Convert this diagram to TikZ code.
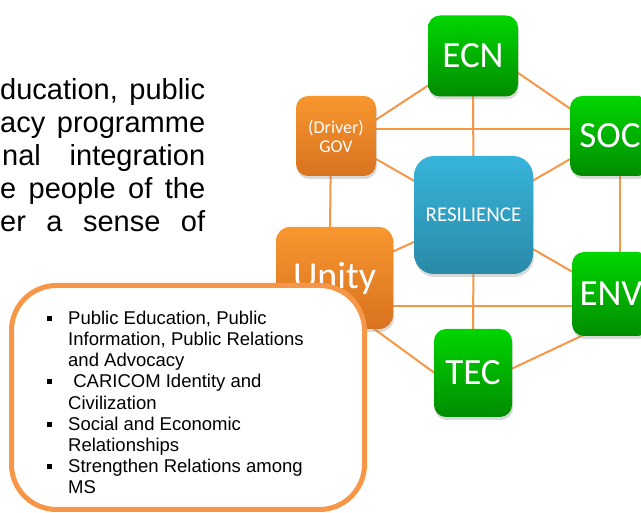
\documentclass[tikz,border=0pt]{standalone}
\usepackage{fontspec}
\setmainfont{Liberation Sans}
\newfontfamily\calibri{Carlito}
\usetikzlibrary{shadows,backgrounds}

\definecolor{linkorange}{HTML}{F79646}
\definecolor{orangetop}{HTML}{F8962F}
\definecolor{orangebot}{HTML}{D8721F}
\definecolor{greentop}{HTML}{00D600}
\definecolor{greenbot}{HTML}{008C00}
\definecolor{bluetop}{HTML}{37B4DB}
\definecolor{bluebot}{HTML}{2A8AA7}

\begin{document}
\begin{tikzpicture}[x=1pt,y=-1pt,
    pillar/.style ={rounded corners=12pt, inner sep=0pt, text=white, align=center,
      drop shadow={opacity=0.3, shadow xshift=1pt, shadow yshift=-3pt}},
    driverbox/.style ={pillar, top color=orangetop, bottom color=orangebot},
    sectorbox/.style ={pillar, top color=greentop, bottom color=greenbot},
    corebox/.style ={pillar, rounded corners=20pt, top color=bluetop, bottom color=bluebot},
    linkline/.style ={linkorange, line width=2pt},
    notebox/.style ={draw=linkorange, line width=5pt, fill=white, rounded corners=45pt, inner sep=0pt},
    noteline/.style ={anchor=base west, inner sep=0pt, font=\fontsize{18.5}{21}\selectfont},
    bulletbox/.style ={fill=black, inner sep=0pt, minimum size=5pt},
    bodyline/.style ={anchor=base west, inner sep=0pt, font=\fontsize{29}{33}\selectfont}]
   \useasboundingbox (0,0) rectangle (641,513);
   \clip (0,0) rectangle (641,513);

   % paragraph cut at the left edge
   \node[bodyline] (P1) at (0,100) {\makebox[205pt][s]{ducation, public}};
   \node[bodyline] (P2) at (0,133) {\makebox[205pt][s]{acy programme}};
   \node[bodyline] (P3) at (2,166) {\makebox[203pt][s]{nal integration}};
   \node[bodyline] (P4) at (0,199) {\makebox[205pt][s]{e people of the}};
   \node[bodyline] (P5) at (0,232) {\makebox[205pt][s]{er a sense of}};

   % pillars
   \node[sectorbox, minimum width=90pt, minimum height=81pt, font=\calibri\fontsize{37}{40}\selectfont] (ECN) at (473,56) {ECN};
   \node[driverbox, minimum width=80pt, minimum height=80pt, font=\calibri\fontsize{18}{19}\selectfont] (GOV) at (336,136) {(Driver)\\GOV};
   \node[sectorbox, minimum width=80pt, minimum height=80pt, font=\calibri\fontsize{37}{40}\selectfont] (SOC) at (610,136) {SOC};
   \node[corebox, minimum width=119pt, minimum height=118pt, font=\calibri\fontsize{21}{24}\selectfont] (RES) at (473.5,215) {RESILIENCE};
   \node[driverbox, rounded corners=14pt, minimum width=117pt, minimum height=102pt, font=\calibri\fontsize{38}{42}\selectfont] (Unity) at (334.5,278) {Unity};
   \node[sectorbox, minimum width=78pt, minimum height=84pt, font=\calibri\fontsize{37}{40}\selectfont] (ENV) at (611,294) {ENV};
   \node[sectorbox, minimum width=78pt, minimum height=88pt, font=\calibri\fontsize{37}{40}\selectfont] (TEC) at (473,373) {TEC};

   \begin{scope}[on background layer]
   \draw[linkline] ([yshift=-10pt]GOV.center) to (ECN.center);
   \draw[linkline] ([yshift=14pt]ECN.center) to (SOC.center);
   \draw[linkline] (ECN.center) to (RES.center);
   \draw[linkline] ([yshift=7pt]GOV.center) to ([yshift=7pt]SOC.center);
   \draw[linkline] (GOV.center) to (RES.center);
   \draw[linkline] (SOC.center) to (RES.center);
   \draw[linkline] ([xshift=-5pt]GOV.center) to ([xshift=-5pt]Unity.center);
   \draw[linkline] ([xshift=10pt]SOC.center) to ([xshift=9pt]ENV.center);
   \draw[linkline] (Unity.center) to (RES.center);
   \draw[linkline] ([yshift=-28pt]Unity.center) to ([yshift=-12pt]ENV.center);
   \draw[linkline] ([yshift=-22pt]Unity.center) to ([yshift=-28pt]TEC.center);
   \draw[linkline] (RES.center) to (TEC.center);
   \draw[linkline] (RES.center) to (ENV.center);
   \draw[linkline] ([yshift=-14pt]TEC.center) to ([yshift=-28pt]ENV.center);
   \end{scope}

   % notes
   \node[notebox, minimum width=353pt, minimum height=224pt] (notes) at (188,397.5) {};
   \node[bulletbox] (M1) at (49,318.5) {};
   \node[bulletbox] (M2) at (49,381.5) {};
   \node[bulletbox] (M3) at (49,424.5) {};
   \node[bulletbox] (M4) at (49,466.5) {};
   \node[noteline] (L1) at (68,325) {Public Education, Public};
   \node[noteline] (L2) at (68,346) {Information, Public Relations};
   \node[noteline] (L3) at (68,367) {and Advocacy};
   \node[noteline] (L4) at (68,388) {\ CARICOM Identity and};
   \node[noteline] (L5) at (68,410) {Civilization};
   \node[noteline] (L6) at (68,431) {Social and Economic};
   \node[noteline] (L7) at (68,452) {Relationships};
   \node[noteline] (L8) at (68,473) {Strengthen Relations among};
   \node[noteline] (L9) at (68,494) {MS};
 \end{tikzpicture}
\end{document}
